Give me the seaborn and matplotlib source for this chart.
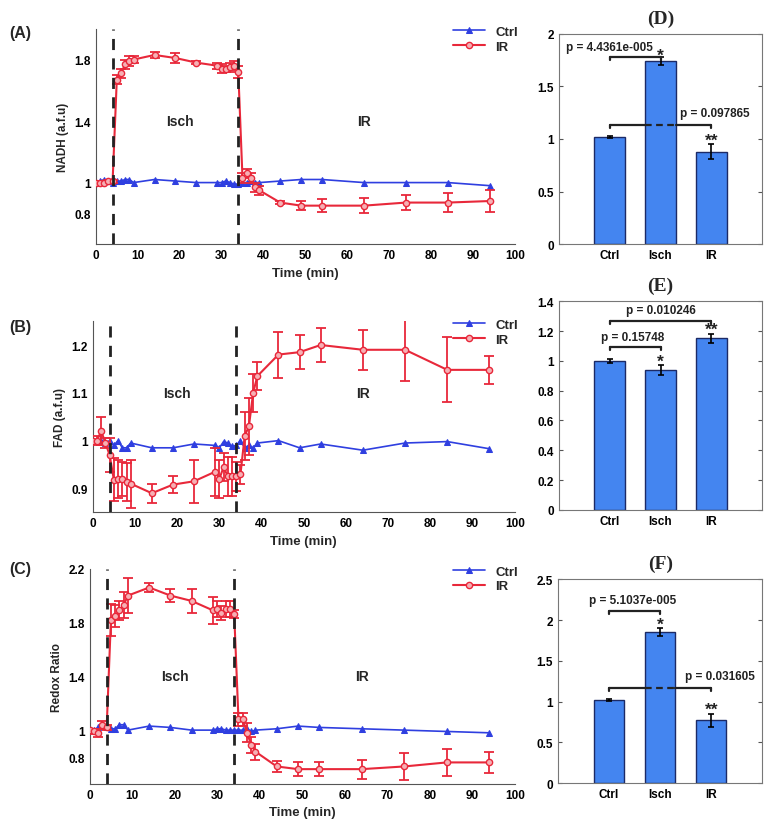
import numpy as np
import matplotlib
matplotlib.use("Agg")
import matplotlib.pyplot as plt
import seaborn as sns

# time points (min)
time_min = [0, 1, 2, 3, 4, 5, 6, 7, 8, 9, 14, 19, 24, 29, 30, 31, 32, 33, 34,
            35, 36, 37, 38, 39, 44, 49, 54, 64, 74, 84, 94]

# NADH
nadh_ctrl = [1.0, 1.01, 1.02, 1.01, 1.0, 1.01, 1.01, 1.02, 1.02, 1.0, 1.02, 1.01, 1.0, 1.0, 1.0,
             1.01, 1.0, 0.99, 0.99, 1.0, 1.0, 1.01, 1.0, 1.0, 1.01, 1.02, 1.02, 1.0, 1.0, 1.0, 0.98]
nadh_ir = [1.0, 1.0, 1.0, 1.01, 1.01, 1.67, 1.71, 1.77, 1.79, 1.80, 1.83, 1.81, 1.78, 1.76, 1.74,
           1.74, 1.75, 1.76, 1.72, 1.03, 1.06, 1.03, 0.97, 0.95, 0.87, 0.85, 0.85, 0.85, 0.87, 0.87, 0.88]
nadh_ir_err = [0.01, 0.01, 0.01, 0.01, 0.01, 0.03, 0.03, 0.03, 0.03, 0.02, 0.02, 0.03, 0.01, 0.02, 0.03,
               0.02, 0.03, 0.03, 0.04, 0.03, 0.03, 0.03, 0.03, 0.03, 0.01, 0.03, 0.04, 0.05, 0.05, 0.06, 0.07]

# FAD
fad_ctrl = [1.0, 1.0, 1.0, 0.995, 1.0, 0.99, 1.0, 0.985, 0.985, 0.995, 0.985, 0.985, 0.993, 0.99, 0.985,
            0.998, 0.995, 0.988, 0.99, 1.0, 0.985, 0.99, 0.985, 0.995, 1.0, 0.985, 0.993, 0.98, 0.995, 0.998, 0.983]
fad_ir = [1.0, 1.0, 1.02, 0.995, 0.97, 0.918, 0.92, 0.92, 0.913, 0.91, 0.89, 0.908, 0.915, 0.935, 0.92,
          0.945, 0.925, 0.925, 0.925, 0.93, 1.01, 1.03, 1.10, 1.135, 1.18, 1.185, 1.2, 1.19, 1.19, 1.148, 1.148]
fad_ir_err = [0.0, 0.01, 0.03, 0.01, 0.035, 0.045, 0.04, 0.035, 0.04, 0.05, 0.02, 0.018, 0.045, 0.05, 0.04,
              0.03, 0.04, 0.04, 0.03, 0.02, 0.05, 0.06, 0.04, 0.03, 0.048, 0.035, 0.036, 0.042, 0.065, 0.068, 0.03]

# Redox ratio
redox_ctrl = [1.0, 1.0, 1.02, 1.03, 1.02, 1.01, 1.01, 1.04, 1.04, 1.0, 1.03, 1.02, 1.0, 1.0, 1.01,
              1.01, 1.0, 1.0, 1.0, 1.0, 1.0, 1.01, 0.99, 1.0, 1.01, 1.03, 1.02, 1.01, 1.0, 0.99, 0.98]
redox_ir = [1.0, 0.99, 0.98, 1.04, 1.02, 1.82, 1.85, 1.89, 1.93, 2.0, 2.06, 2.0, 1.96, 1.89, 1.9,
            1.87, 1.9, 1.9, 1.86, 1.08, 1.08, 0.98, 0.89, 0.84, 0.73, 0.71, 0.71, 0.71, 0.73, 0.76, 0.76]
redox_ir_err = [0.01, 0.02, 0.03, 0.03, 0.02, 0.12, 0.08, 0.07, 0.1, 0.13, 0.03, 0.05, 0.09, 0.1, 0.06,
                0.05, 0.06, 0.06, 0.03, 0.05, 0.05, 0.07, 0.06, 0.06, 0.04, 0.05, 0.05, 0.07, 0.1, 0.1, 0.08]

# bar summaries
groups = ["Ctrl", "Isch", "IR"]
nadh_mean = [1.02, 1.74, 0.88]
nadh_err = [0.01, 0.04, 0.07]
fad_mean = [1.0, 0.94, 1.15]
fad_err = [0.015, 0.035, 0.03]
redox_mean = [1.02, 1.85, 0.77]
redox_err = [0.01, 0.05, 0.08]

BLUE = "#2f3fe0"
RED = "#e8283a"
BAR = "#4485f0"

sns.set_theme(style="white")
plt.rcParams["font.family"] = ["Liberation Sans", "DejaVu Sans"]
plt.rcParams["font.weight"] = "bold"
plt.rcParams["axes.labelweight"] = "bold"

fig = plt.figure(figsize=(7.73, 8.28), dpi=100)


def time_panel(rect, ctrl, ir, ir_err, ylim, yticks, ylabels, ylab, ytext, letter, letter_y):
    ax = fig.add_axes(rect)
    sns.lineplot(x=time_min, y=ctrl, ax=ax, color=BLUE, marker="^", markersize=5,
                 markeredgecolor=BLUE, linewidth=1.2, label="Ctrl", zorder=3)
    ax.errorbar(time_min, ir, yerr=ir_err, fmt="none", ecolor=RED, elinewidth=1.3,
                capsize=3.5, capthick=1.3, zorder=4)
    sns.lineplot(x=time_min, y=ir, ax=ax, color=RED, marker="o", markersize=4.5,
                 markerfacecolor="#f6b0b5", markeredgecolor=RED, markeredgewidth=1,
                 linewidth=1.5, label="IR", zorder=4)
    for xv in (4, 34):
        ax.axvline(xv, color="#222222", linestyle=(0, (4, 3)), linewidth=2, zorder=5)
    ax.set_xlim(0, 100)
    ax.set_ylim(*ylim)
    ax.set_xticks(range(0, 101, 10))
    ax.set_yticks(yticks)
    ax.set_yticklabels(ylabels)
    ax.tick_params(direction="in", length=3, labelsize=8.5, width=0.8, colors="#333333")
    for lab in ax.get_xticklabels() + ax.get_yticklabels():
        lab.set_fontweight("bold")
        lab.set_color("black")
    for s in ("top", "right"):
        ax.spines[s].set_visible(False)
    for s in ("left", "bottom"):
        ax.spines[s].set_color("#555555")
        ax.spines[s].set_linewidth(0.8)
    ax.set_xlabel("Time (min)", fontsize=9.5, fontweight="bold")
    ax.set_ylabel(ylab, fontsize=8.5, fontweight="bold")
    ax.text(20, ytext, "Isch", fontsize=10, fontweight="bold", ha="center", va="center")
    ax.text(64, ytext, "IR", fontsize=10, fontweight="bold", ha="center", va="center")
    leg = ax.legend(loc="upper right", bbox_to_anchor=(1.02, 1.04), frameon=False,
                    fontsize=9.5, handlelength=2.4, borderaxespad=0, labelspacing=0.2)
    for t in leg.get_texts():
        t.set_fontweight("bold")
    fig.text(0.012, letter_y, letter, fontsize=11.5, fontweight="bold", va="center")
    return ax


time_panel([0.124, 0.704, 0.542, 0.26], nadh_ctrl, nadh_ir, nadh_ir_err, (0.6, 2.0),
           [0.8, 1.0, 1.2, 1.4, 1.6, 1.8], ["0.8", "1", "", "1.4", "", "1.8"],
           "NADH (a.f.u)", 1.4, "(A)", 0.96)
time_panel([0.120, 0.380, 0.546, 0.231], fad_ctrl, fad_ir, fad_ir_err, (0.85, 1.25),
           [0.9, 0.95, 1.0, 1.05, 1.1, 1.15, 1.2], ["0.9", "", "1", "", "1.1", "", "1.2"],
           "FAD (a.f.u)", 1.1, "(B)", 0.605)
time_panel([0.116, 0.052, 0.55, 0.26], redox_ctrl, redox_ir, redox_ir_err, (0.6, 2.2),
           [0.8, 1.0, 1.2, 1.4, 1.6, 1.8, 2.0, 2.2], ["0.8", "1", "", "1.4", "", "1.8", "", "2.2"],
           "Redox Ratio", 1.4, "(C)", 0.312)


def bracket(ax, x0, x1, y, drop, dashed=False):
    kw = dict(color="#222222", linewidth=1.6, zorder=6)
    if dashed:
        ax.plot([x0, 0.7], [y, y], **kw)
        ax.plot([0.7, 1.3], [y, y], linestyle=(0, (3, 2)), **kw)
        ax.plot([1.3, x1], [y, y], **kw)
    else:
        ax.plot([x0, x1], [y, y], **kw)
    ax.plot([x0, x0], [y, y - drop], **kw)
    ax.plot([x1, x1], [y, y - drop], **kw)


def bar_panel(rect, means, errs, ymax, ystep, title, notes):
    ax = fig.add_axes(rect)
    sns.barplot(x=groups, y=means, ax=ax, color=BAR, width=0.6, edgecolor="#1c2a66",
                linewidth=1, saturation=1)
    ax.errorbar(range(3), means, yerr=errs, fmt="none", ecolor="black", elinewidth=1.2,
                capsize=2, capthick=1.2, zorder=5)
    ax.set_xlim(-1, 3)
    ax.set_ylim(0, ymax)
    ax.set_yticks(np.arange(0, ymax + 1e-9, ystep))
    ax.set_yticklabels([f"{v:g}" for v in np.arange(0, ymax + 1e-9, ystep)])
    ax.tick_params(direction="in", length=3, labelsize=8.5, right=True, left=True,
                   bottom=False, width=0.8, colors="#555555")
    for lab in ax.get_xticklabels() + ax.get_yticklabels():
        lab.set_fontweight("bold")
        lab.set_color("black")
    for s in ax.spines.values():
        s.set_color("#777777")
        s.set_linewidth(0.8)
    ax.set_title(title, fontsize=14, fontweight="bold", family="Liberation Serif", pad=8)
    for kind, args in notes:
        if kind == "br":
            bracket(ax, *args)
        else:
            x, y, s = args
            is_p = s[0] == "p"
            ax.text(x, y, s, ha="center", va="center", fontsize=8.5 if is_p else 12.5,
                    fontweight="bold", zorder=7, color="#222222")
    return ax


bar_panel([0.723, 0.704, 0.263, 0.254], nadh_mean, nadh_err, 2.0, 0.5, "(D)", [
    ("br", (0, 1, 1.78, 0.03)),
    ("tx", (0.0, 1.87, "p = 4.4361e-005")),
    ("tx", (1, 1.80, "*")),
    ("br", (0, 2, 1.13, 0.03, True)),
    ("tx", (2.07, 1.25, "p = 0.097865")),
    ("tx", (2, 0.99, "**")),
])
bar_panel([0.723, 0.383, 0.263, 0.252], fad_mean, fad_err, 1.4, 0.2, "(E)", [
    ("br", (0, 1, 1.09, 0.02)),
    ("tx", (0.46, 1.16, "p = 0.15748")),
    ("tx", (1, 1.0, "*")),
    ("br", (0, 2, 1.27, 0.02)),
    ("tx", (1.0, 1.34, "p = 0.010246")),
    ("tx", (2, 1.21, "**")),
])
bar_panel([0.722, 0.053, 0.264, 0.246], redox_mean, redox_err, 2.5, 0.5, "(F)", [
    ("br", (0, 1, 2.11, 0.04)),
    ("tx", (0.47, 2.25, "p = 5.1037e-005")),
    ("tx", (1, 1.95, "*")),
    ("br", (0, 2, 1.17, 0.04, True)),
    ("tx", (2.17, 1.31, "p = 0.031605")),
    ("tx", (2, 0.91, "**")),
])

fig.savefig("out.png", dpi=100)
